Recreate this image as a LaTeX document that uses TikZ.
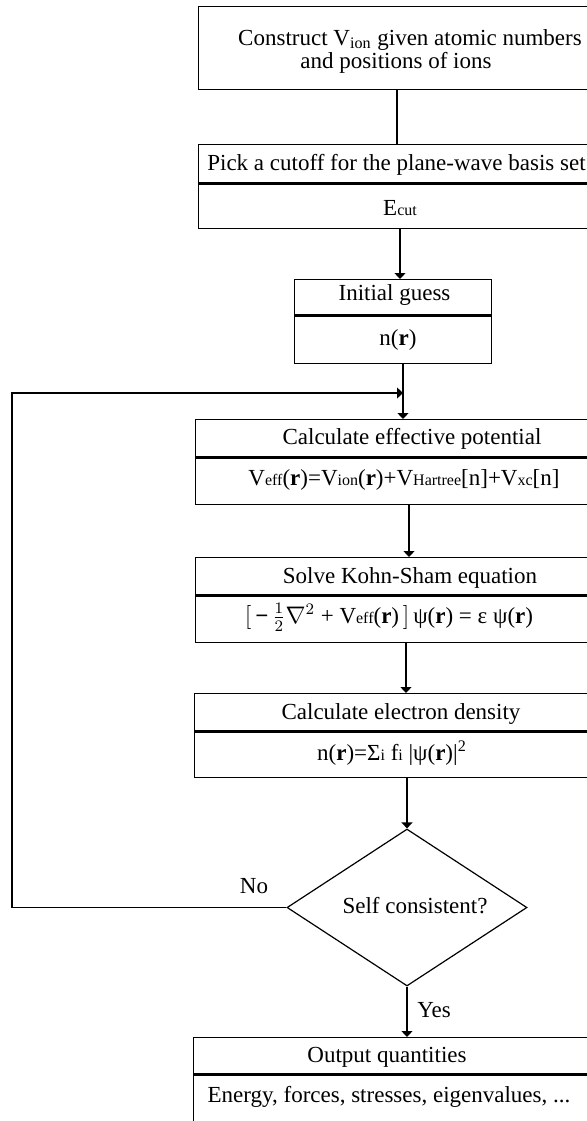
\documentclass[tikz,border=0pt]{standalone}
\usepackage{amsmath}
\usepackage{fontspec}
\setmainfont{Liberation Serif}
\usetikzlibrary{arrows.meta,shapes.geometric}
\newcommand{\lo}[1]{{\fontsize{8pt}{8pt}\selectfont #1}}

\begin{document}
\begin{tikzpicture}[x=0.5pt,y=-0.5pt]
\tikzstyle{every node}+=[inner sep=0pt, font=\fontsize{11.5pt}{11.5pt}\selectfont]
\tikzstyle{box}=[draw=black, line width=0.6pt, anchor=north west]
\tikzstyle{txt}=[anchor=base]
\tikzstyle{bar}=[black, line width=1.5pt]
\tikzstyle{arr}=[black, line width=0.6pt, -{Triangle[length=3pt,width=5.5pt]}]
\useasboundingbox (0,0) rectangle (587,1121);
\clip (0,0) rectangle (587,1121);
\node [box, minimum width=211pt, minimum height=41.5pt] (setup) at (198,6) {};
\node [box, minimum width=211pt, minimum height=42pt] (cutoff) at (198,144) {};
\node [box, minimum width=98.5pt, minimum height=42pt] (guess) at (294,279) {};
\node [box, minimum width=218pt, minimum height=42.5pt] (veff) at (195,419) {};
\node [box, minimum width=218pt, minimum height=42.5pt] (ks) at (195,557) {};
\node [box, minimum width=218pt, minimum height=42pt] (dens) at (194,693) {};
\node [box, minimum width=218pt, minimum height=46.5pt] (outq) at (193,1037) {};
\node [diamond, draw=black, line width=0.6pt, minimum width=120pt, minimum height=78.5pt] (sc) at (407,907.5) {};
\draw [bar] (cutoff.west |- 0,183) -- (cutoff.east |- 0,183);
\draw [bar] (guess.west |- 0,315) -- (guess.east |- 0,315);
\draw [bar] (veff.west |- 0,457) -- (veff.east |- 0,457);
\draw [bar] (ks.west |- 0,595) -- (ks.east |- 0,595);
\draw [bar] (dens.west |- 0,731) -- (dens.east |- 0,731);
\draw [bar] (outq.west |- 0,1074) -- (outq.east |- 0,1074);
\node [txt] (setupa) at (410,45) {Construct V\textsubscript{ion} given atomic numbers};
\node [txt] (setupb) at (396,68) {and positions of ions};
\node [txt] (cutofft) at (396.5,170) {Pick a cutoff for the plane-wave basis set};
\node [txt] (cutoffv) at (400,215) {E\lo{cut}};
\node [txt] (guesst) at (394.5,300) {Initial guess};
\node [txt] (guessv) at (398,345) {n(\textbf{r})};
\node [txt] (vefft) at (412,444) {Calculate effective potential};
\node [txt] (veffv) at (404,485) {V\lo{eff}(\textbf{r})=V\lo{ion}(\textbf{r})+V\lo{Hartree}[n]+V\lo{xc}[n]};
\node [txt] (kst) at (410,583) {Solve Kohn-Sham equation};
\node [txt] (ksv) at (389,623) {$[$\,\textbf{−}\,$\frac{1}{2}\nabla^{2}$ + V\lo{eff}(\textbf{r})\,$]$\,ψ(\textbf{r}) = ε ψ(\textbf{r})};
\node [txt] (denst) at (401,719) {Calculate electron density};
\node [txt] (densv) at (392,760) {n(\textbf{r})=Σ\lo{i} f\lo{i} |ψ(\textbf{r})|\textsuperscript{2}};
\node [txt] (sct) at (415,913) {Self consistent?};
\node [txt] (outqt) at (387,1062) {Output quantities};
\node [txt] (outqv) at (389,1102) {Energy, forces, stresses, eigenvalues, ...};
\node [txt] (no) at (254,893) {No};
\node [txt] (yes) at (434,1017) {Yes};
\coordinate (back) at (403,393);
\draw [black, line width=0.6pt] (setup.south -| 397,0) -- (cutoff.north -| 397,0);
\draw [arr] (cutoff.south -| 400,0) -- (guess.north -| 400,0);
\draw [arr] (guess.south -| 403,0) -- (veff.north -| 403,0);
\draw [arr] (veff.south -| 409,0) -- (ks.north -| 409,0);
\draw [arr] (ks.south -| 406,0) -- (dens.north -| 406,0);
\draw [arr] (dens.south -| sc.north) -- (sc.north);
\draw [arr] (sc.south) -- (outq.north -| sc.south);
\draw [arr] (sc.west) -- (sc.west -| 12,0) |- (back);
\end{tikzpicture}
\end{document}
